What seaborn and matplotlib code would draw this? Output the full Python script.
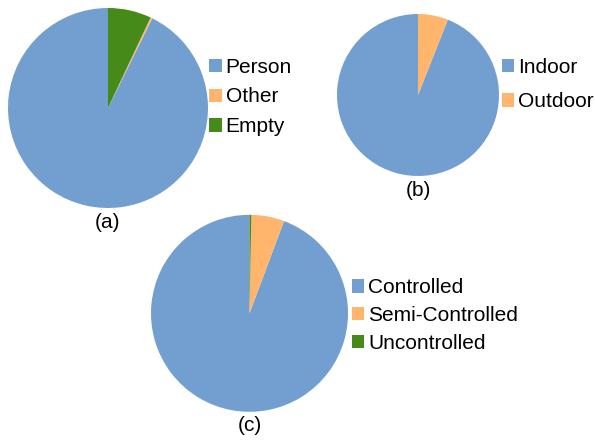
import matplotlib
matplotlib.use("Agg")
import matplotlib.pyplot as plt
import seaborn as sns

# Shares (percent) for each breakdown
labels_a = ["Person", "Other", "Empty"]
shares_a = [92.7, 0.3, 7.0]

labels_b = ["Indoor", "Outdoor"]
shares_b = [94.0, 6.0]

labels_c = ["Controlled", "Semi-Controlled", "Uncontrolled"]
shares_c = [94.3, 5.4, 0.3]

captions = ["(a)", "(b)", "(c)"]

sns.set_theme(style="white")
plt.rcParams["font.family"] = ["Liberation Sans", "DejaVu Sans"]
plt.rcParams["text.color"] = "black"

palette = sns.color_palette(["#729fcf", "#ffb66c", "#468a1a"])

W, H = 595, 440
FS = 15
fig = plt.figure(figsize=(W / 100, H / 100), dpi=100)
fig.patch.set_facecolor("white")


def fx(x):
    return x / W


def fy(y):
    return 1 - y / H


def pie_panel(cx, cy, r, values, labels, leg_x, leg_y, spacing, cap, cap_y):
    ax = fig.add_axes([fx(cx - r), fy(cy + r), 2 * r / W, 2 * r / H])
    wedges, _ = ax.pie(values, colors=palette[:len(values)], startangle=90,
                       counterclock=True, radius=1,
                       wedgeprops=dict(linewidth=0))
    ax.set_xlim(-1, 1)
    ax.set_ylim(-1, 1)
    ax.set_aspect("equal")
    ax.axis("off")
    leg = ax.legend(wedges, labels, loc="center left",
                    bbox_to_anchor=(fx(leg_x), fy(leg_y)),
                    bbox_transform=fig.transFigure, frameon=False,
                    fontsize=FS, handlelength=0.6, handleheight=0.6,
                    handletextpad=0.18, labelspacing=spacing,
                    borderpad=0, borderaxespad=0)
    for t in leg.get_texts():
        t.set_color("black")
    fig.text(fx(cx), fy(cap_y), cap, ha="center", va="center",
             fontsize=FS, color="black")


pie_panel(108, 108, 100, shares_a, labels_a, 209.3, 97, 0.52, captions[0], 222)
pie_panel(418, 95, 81, shares_b, labels_b, 501.7, 84.5, 0.76, captions[1], 190)
pie_panel(249.5, 313.3, 98.5, shares_c, labels_c, 351.7, 315.5, 0.42, captions[2], 425)

fig.savefig("out.png", dpi=100, facecolor="white")
